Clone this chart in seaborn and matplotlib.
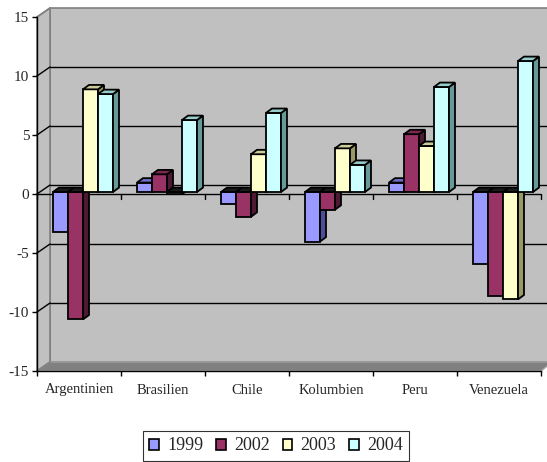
import matplotlib
matplotlib.use("Agg")
import matplotlib.pyplot as plt
import matplotlib.transforms as mtransforms
import matplotlib.colors as mcolors
from matplotlib.patches import Polygon, Patch
from matplotlib.lines import Line2D
import seaborn as sns
import pandas as pd

# ---- data ----
countries = ["Argentinien", "Brasilien", "Chile", "Kolumbien", "Peru", "Venezuela"]
years = ["1999", "2002", "2003", "2004"]
v1999 = [-3.4, 0.8, -1.0, -4.2, 0.8, -6.1]
v2002 = [-10.8, 1.5, -2.1, -1.5, 4.9, -8.8]
v2003 = [8.7, -0.2, 3.2, 3.7, 3.9, -9.1]
v2004 = [8.3, 6.1, 6.7, 2.3, 8.9, 11.1]
yticks = [-15, -10, -5, 0, 5, 10, 15]

front_cols = ["#9999FF", "#993366", "#FFFFCC", "#CCFFFF"]
side_cols = ["#4D4D99", "#4D1933", "#999966", "#669999"]
top_cols = ["#7070CC", "#7A2850", "#CCCC99", "#99CCCC"]

series = [v1999, v2002, v2003, v2004]
rows = []
for yr, vals in zip(years, series):
    for c, v in zip(countries, vals):
        rows.append({"country": c, "year": yr, "value": v})
df = pd.DataFrame(rows)

sns.set_theme(style="white")
plt.rcParams["font.family"] = ["Liberation Serif", "DejaVu Serif"]
plt.rcParams["axes.unicode_minus"] = False

W, H = 547, 462
fig = plt.figure(figsize=(W / 100, H / 100), dpi=100)
fig.patch.set_facecolor("white")

def fx(x):
    return x / W

def fy(y):
    return 1 - y / H

L, R, T, B = 37, 541, 17, 371
ax = fig.add_axes([fx(L), fy(B), (R - L) / W, (B - T) / H])
ax.set_facecolor("none")
ax.set_zorder(1)

DX, DY = 13, 9  # back wall offset (px)

# walls and floor (figure pixel coords), drawn behind the axes
def figpoly(pts, z, **kw):
    p = Polygon([(fx(x), fy(y)) for x, y in pts], closed=True,
                transform=fig.transFigure, zorder=z, **kw)
    fig.patches.append(p)
    return p

figpoly([(L + DX, T - DY), (W + 5, T - DY), (W + 5, B - DY), (L + DX, B - DY)], -3,
        facecolor="#C0C0C0", edgecolor="#808080", linewidth=1.2)
figpoly([(L, T), (L + DX, T - DY), (L + DX, B - DY), (L, B)], -2.9,
        facecolor="#C0C0C0", edgecolor="#808080", linewidth=1.2)
figpoly([(L, B), (L + DX, B - DY), (W + 5, B - DY), (R, B)], -2.8,
        facecolor="#808080", edgecolor="#A0A0A0", linewidth=1.0)

# bars
sns.barplot(data=df, x="country", y="value", hue="year", palette=front_cols,
            order=countries, hue_order=years, width=0.714, saturation=1,
            edgecolor="black", linewidth=1.3, legend=False, ax=ax, zorder=3)

ax.set_xlim(-0.5, len(countries) - 0.5)
ax.set_ylim(-15, 15)

# back-wall gridlines and left wall diagonals
back_off = mtransforms.ScaledTranslation(DX / 100, DY / 100, fig.dpi_scale_trans)
for yv in [10, 5, 0, -5, -10]:
    ax.plot([-0.5, len(countries) - 0.5], [yv, yv], color="black", linewidth=1.0,
            transform=ax.transData + back_off, clip_on=False, zorder=1)
for yv in yticks:
    p0 = ax.transData.transform((-0.5, yv))
    line = Line2D([p0[0], p0[0] + DX], [p0[1], p0[1] + DY],
                  color="black" if -15 < yv < 15 else "#808080",
                  linewidth=1.0, transform=None, zorder=-2)
    fig.lines.append(line)

# 3D faces on bars
ppx = (R - L) / len(countries)     # px per category
ppy = (B - T) / 30.0               # px per unit
sdx, sdy = 6 / ppx, 4.4 / ppy
bar_off = mtransforms.ScaledTranslation(4 / 100, 2 / 100, fig.dpi_scale_trans)
bars = sorted([p for p in ax.patches], key=lambda p: p.get_x())
colmap = {c.lower(): i for i, c in enumerate(front_cols)}
for k, p in enumerate(bars):
    z = 3 + k * 0.01
    p.set_zorder(z)
    p.set_transform(ax.transData + bar_off)
    p.set_clip_on(False)
    fc = mcolors.to_hex(p.get_facecolor()).lower()
    idx = colmap.get(fc, 0)
    x0 = p.get_x()
    x1 = x0 + p.get_width()
    y0 = p.get_y()
    y1 = y0 + p.get_height()
    ylo, yhi = min(y0, y1), max(y0, y1)
    side = Polygon([(x1, ylo), (x1 + sdx, ylo + sdy), (x1 + sdx, yhi + sdy), (x1, yhi)],
                   closed=True, facecolor=side_cols[idx], edgecolor="black", linewidth=1.3,
                   transform=ax.transData + bar_off, zorder=z + 0.001, clip_on=False)
    ax.add_patch(side)
    tcol = top_cols[idx] if p.get_height() > 0 else "#1A1A1A"
    top = Polygon([(x0, yhi), (x0 + sdx, yhi + sdy), (x1 + sdx, yhi + sdy), (x1, yhi)],
                  closed=True, facecolor=tcol, edgecolor="black", linewidth=1.3,
                  transform=ax.transData + bar_off, zorder=z + 0.002, clip_on=False)
    ax.add_patch(top)

# front zero line with ticks
ax.axhline(0, color="black", linewidth=1.0, zorder=2.5)
for b in range(len(countries) + 1):
    ax.plot([b - 0.5, b - 0.5], [0, -5 / ppy], color="black", linewidth=1.0,
            zorder=2.5, clip_on=False)

# axes styling
for s in ["top", "right"]:
    ax.spines[s].set_visible(False)
for s in ["left", "bottom"]:
    ax.spines[s].set_color("black")
    ax.spines[s].set_linewidth(1.0)
    ax.spines[s].set_zorder(2.6)
ax.set_yticks(yticks)
ax.set_yticklabels([str(t) for t in yticks], fontsize=11)
ax.tick_params(axis="y", direction="out", length=3.6, width=1.0, color="black", pad=2, left=True)
ax.set_xticks(range(len(countries)))
ax.set_xticklabels(countries, fontsize=10.5)
ax.set_xticks([b - 0.5 for b in range(len(countries) + 1)], minor=True)
ax.tick_params(axis="x", which="major", length=0, pad=9)
ax.tick_params(axis="x", which="minor", direction="out", length=3.6, width=1.0,
               color="black", bottom=True)
ax.set_xlabel("")
ax.set_ylabel("")
ax.grid(False)

# legend
handles = [Patch(facecolor=c, edgecolor="black", linewidth=1.2) for c in front_cols]
leg = fig.legend(handles, years, loc="center", bbox_to_anchor=(fx(276), fy(446)), ncol=4,
                 fontsize=13, frameon=True, fancybox=False, edgecolor="black",
                 handlelength=0.55, handleheight=0.55, handletextpad=0.45,
                 columnspacing=0.7, borderpad=0.35, borderaxespad=0)
leg.get_frame().set_linewidth(0.8)

fig.savefig("out.png", dpi=100, facecolor="white")
